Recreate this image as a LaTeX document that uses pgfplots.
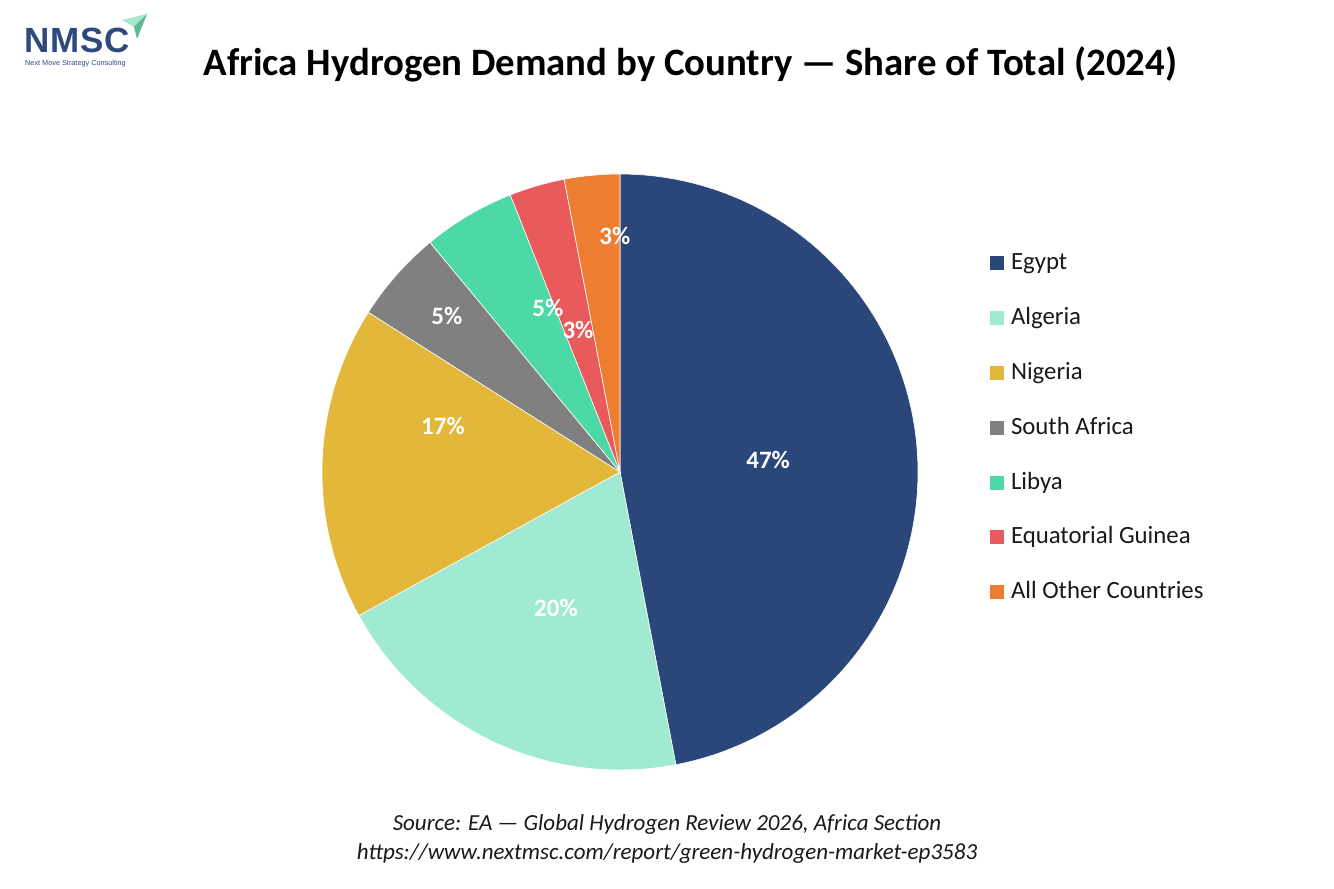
\documentclass[border=0pt]{standalone}
\usepackage{pgfplots}
\pgfplotsset{compat=1.18}
\usepackage{pgfplotstable}
\usepackage{fontspec}
\setmainfont{Carlito}
\newfontfamily\logofont{Liberation Sans}
\definecolor{cEgypt}{HTML}{2B4678}
\definecolor{cAlgeria}{HTML}{A0EAD2}
\definecolor{cNigeria}{HTML}{E3B83A}
\definecolor{cSouth}{HTML}{808080}
\definecolor{cLibya}{HTML}{4DD9A6}
\definecolor{cGuinea}{HTML}{E85A5C}
\definecolor{cOther}{HTML}{ED7D31}
\definecolor{logoblue}{HTML}{2E4A7D}
\definecolor{arrowlight}{HTML}{A8E8CF}
\definecolor{arrowdark}{HTML}{5DB894}
% Shares (%) and the slice angles (degrees, clockwise from 12 o'clock)
\pgfplotstableread{
country share start end
Egypt 47 90 -79.2
Algeria 20 -79.2 -151.2
Nigeria 17 -151.2 -212.4
SouthAfrica 5 -212.4 -230.4
Libya 5 -230.4 -248.4
EquatorialGuinea 3 -248.4 -259.2
Other 3 -259.2 -270
}\sharetable
\begin{document}
\begin{tikzpicture}[x=1pt,y=1pt]
\path[use as bounding box, fill=white] (0,0) rectangle (1334,889);
% logo
\fill[arrowlight] (122,889-20) -- (147,889-14) -- (134,889-27) -- cycle;
\fill[arrowdark] (134,889-27) -- (147,889-14) -- (137,889-39) -- cycle;
\node[anchor=base west, inner sep=0, font=\logofont\bfseries\fontsize{35}{36}\selectfont, text=logoblue] at (24,889-53) {N\kern1ptM\kern1ptS\kern1ptC};
\node[anchor=base west, inner sep=0, font=\logofont\fontsize{7.3}{8}\selectfont, text=logoblue] at (25,889-66) {Next Move Strategy Consulting};
% title
\node[anchor=base, inner sep=0, font=\bfseries\fontsize{38.8}{42}\selectfont] at (690.5,889-75.5) {Africa Hydrogen Demand by Country — Share of Total (2024)};
% source
\node[anchor=base, inner sep=0, font=\itshape\fontsize{23}{26}\selectfont, text=black!90] at (667,889-830.5) {Source: EA — Global Hydrogen Review 2026, Africa Section};
\node[anchor=base, inner sep=0, font=\itshape\fontsize{23}{26}\selectfont, text=black!90] at (667,889-859.5) {https://www.nextmsc.com/report/green-hydrogen-market-ep3583};
\begin{axis}[
  at={(620pt,417pt)}, anchor=center,
  width=596pt, height=596pt, scale only axis,
  xmin=-1, xmax=1, ymin=-1, ymax=1,
  hide axis, clip=false,
  legend style={at={(1.1208,0.8675)}, anchor=north west, draw=none, fill=none,
    inner sep=0pt, outer sep=0pt,
    font=\fontsize{24.8}{24.8}\selectfont, text=black!90,
    row sep=32.8pt, column sep=7pt,
    nodes={inner sep=0pt, text height=17pt, text depth=5pt}},
  legend cell align=left,
  legend image code/.code={\fill[#1,draw=none] (0pt,-6.5pt) rectangle (14pt,7.5pt);},
]
\addplot[fill=cEgypt, draw=white, line width=0.6pt, domain=-79.2:90, samples=120, variable=\t] ({cos(t)},{sin(t)}) -- (axis cs:0,0) -- cycle;
\addlegendentry{Egypt}
\addplot[fill=cAlgeria, draw=white, line width=0.6pt, domain=-151.2:-79.2, samples=60, variable=\t] ({cos(t)},{sin(t)}) -- (axis cs:0,0) -- cycle;
\addlegendentry{Algeria}
\addplot[fill=cNigeria, draw=white, line width=0.6pt, domain=-212.4:-151.2, samples=60, variable=\t] ({cos(t)},{sin(t)}) -- (axis cs:0,0) -- cycle;
\addlegendentry{Nigeria}
\addplot[fill=cSouth, draw=white, line width=0.6pt, domain=-230.4:-212.4, samples=30, variable=\t] ({cos(t)},{sin(t)}) -- (axis cs:0,0) -- cycle;
\addlegendentry{South Africa}
\addplot[fill=cLibya, draw=white, line width=0.6pt, domain=-248.4:-230.4, samples=30, variable=\t] ({cos(t)},{sin(t)}) -- (axis cs:0,0) -- cycle;
\addlegendentry{Libya}
\addplot[fill=cGuinea, draw=white, line width=0.6pt, domain=-259.2:-248.4, samples=20, variable=\t] ({cos(t)},{sin(t)}) -- (axis cs:0,0) -- cycle;
\addlegendentry{Equatorial Guinea}
\addplot[fill=cOther, draw=white, line width=0.6pt, domain=-270:-259.2, samples=20, variable=\t] ({cos(t)},{sin(t)}) -- (axis cs:0,0) -- cycle;
\addlegendentry{All Other Countries}
% percentage labels
\begin{scope}[every node/.style={font=\bfseries\fontsize{25}{25}\selectfont, text=white, inner sep=0pt}]
\node at (axis cs:0.497,0.040) {47\%};
\node at (axis cs:-0.215,-0.456) {20\%};
\node at (axis cs:-0.594,0.154) {17\%};
\node at (axis cs:-0.581,0.523) {5\%};
\node at (axis cs:-0.242,0.550) {5\%};
\node at (axis cs:-0.141,0.477) {3\%};
\node at (axis cs:-0.017,0.792) {3\%};
\end{scope}
\end{axis}
\end{tikzpicture}
\end{document}
